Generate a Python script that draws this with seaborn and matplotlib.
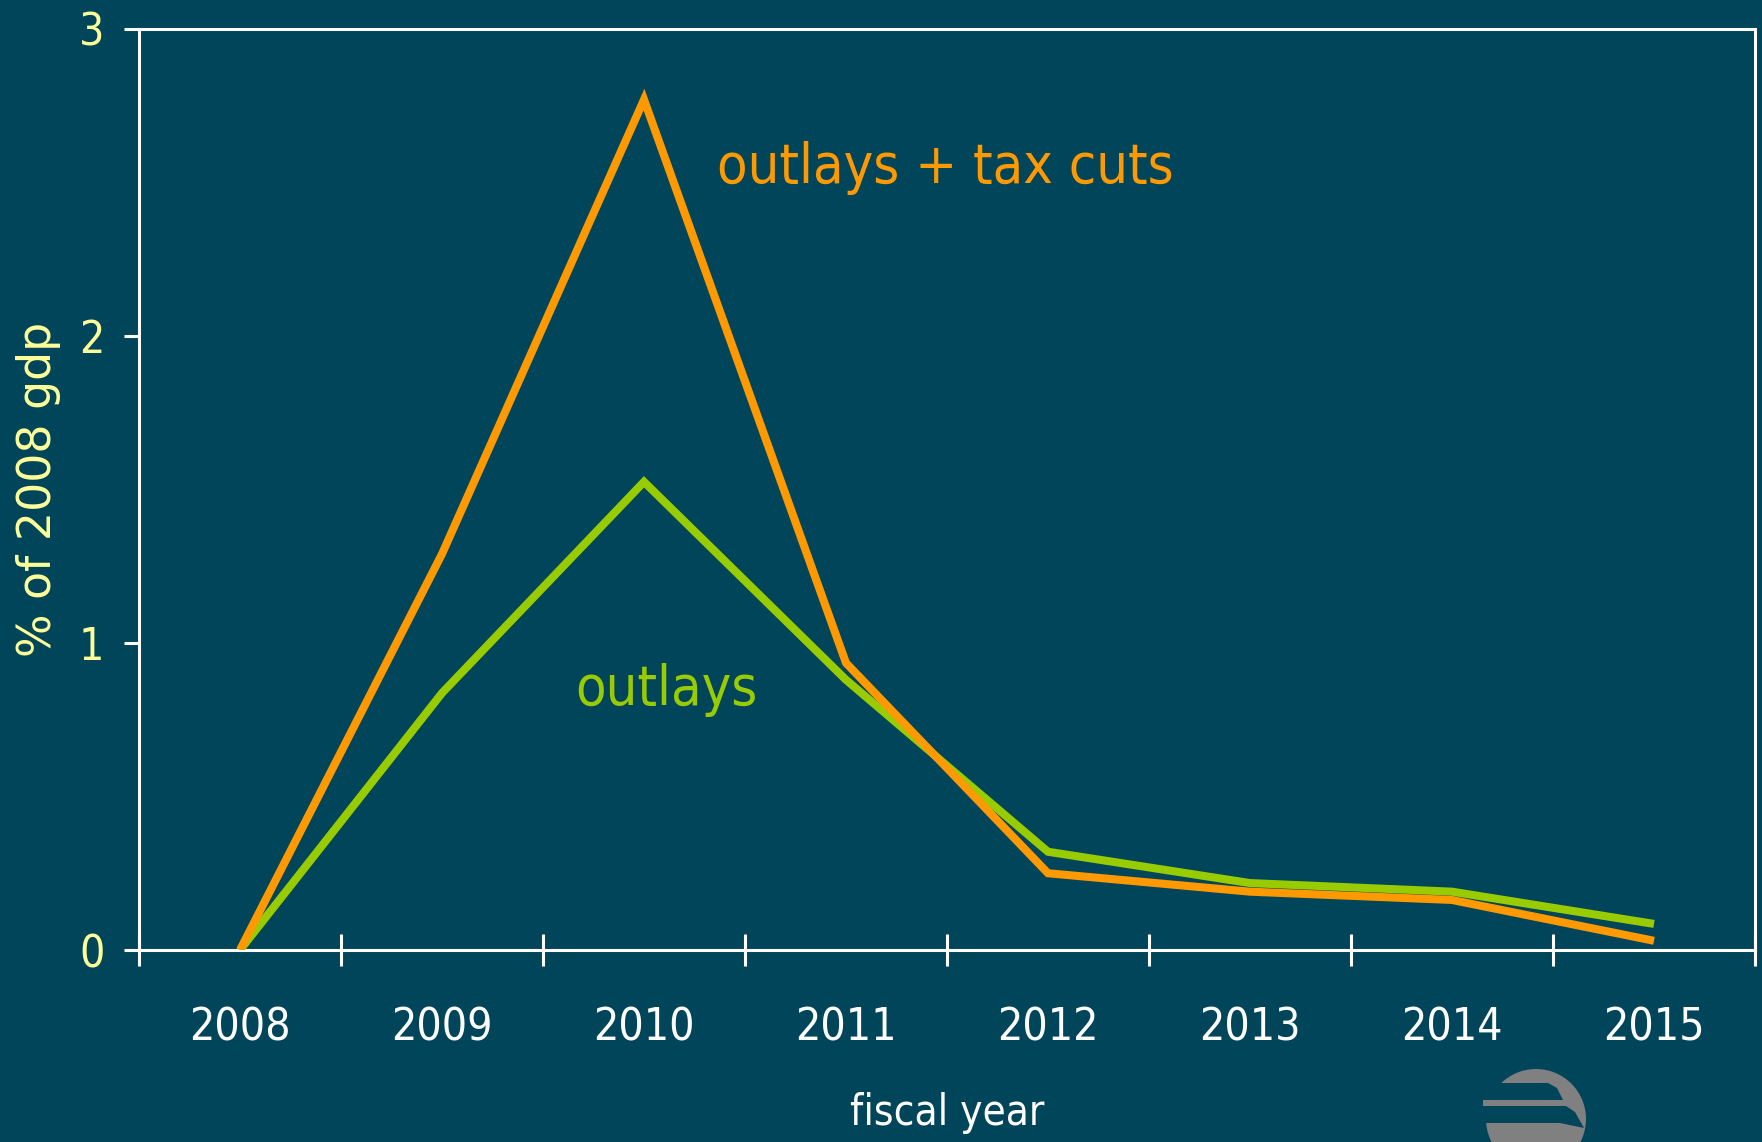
import numpy as np
import pandas as pd
import matplotlib
matplotlib.use("Agg")
import matplotlib.pyplot as plt
from matplotlib import font_manager as fm
from matplotlib.patches import Circle, Polygon, Rectangle
import seaborn as sns

# Stimulus budget effect by fiscal year, % of 2008 GDP
years = [2008, 2009, 2010, 2011, 2012, 2013, 2014, 2015]
outlays_tax_cuts = [0.0, 1.29, 2.77, 0.935, 0.25, 0.19, 0.163, 0.03]
outlays = [0.0, 0.837, 1.525, 0.88, 0.32, 0.218, 0.19, 0.085]
y_ticks = [0, 1, 2, 3]

BG = "#01455A"
ORANGE = "#FF9900"
GREEN = "#99CC00"
YELLOW = "#FFFF99"
WHITE = "#FFFFFF"

sns.set_theme(style="ticks")

# Narrow face for most of the text, with fallbacks
installed = {f.name for f in fm.fontManager.ttflist}
condensed_dejavu = any(f.name == "DejaVu Sans" and f.stretch == "condensed"
                       for f in fm.fontManager.ttflist)
if condensed_dejavu:
    narrow = dict(family="DejaVu Sans", stretch="condensed")
    scale = 0.82
elif "Liberation Sans Narrow" in installed:
    narrow = dict(family="Liberation Sans Narrow")
    scale = 1.0
else:
    narrow = dict(family="Liberation Sans")
    scale = 0.82

plt.rcParams["font.family"] = ["DejaVu Sans"]

tick_size = 39 * scale

fig = plt.figure(figsize=(17.62, 11.42), dpi=100, facecolor=BG)
ax = fig.add_axes([139 / 1762, 1 - 950 / 1142, (1755 - 139) / 1762, (950 - 29) / 1142])
ax.set_facecolor(BG)

df = pd.DataFrame({
    "year": years * 2,
    "value": outlays + outlays_tax_cuts,
    "series": ["outlays"] * len(years) + ["outlays + tax cuts"] * len(years),
})

sns.lineplot(data=df[df.series == "outlays"], x="year", y="value",
             color=GREEN, linewidth=5.8, ax=ax, zorder=3, legend=False)
sns.lineplot(data=df[df.series == "outlays + tax cuts"], x="year", y="value",
             color=ORANGE, linewidth=5.8, ax=ax, zorder=4, legend=False)
for ln in ax.get_lines():
    ln.set_solid_joinstyle("miter")
    ln.set_solid_capstyle("butt")

ax.set_xlim(years[0] - 0.5, years[-1] + 0.5)
ax.set_ylim(0, 3)

# Year labels at centres, tick marks at category boundaries
ax.set_xticks(years)
ax.set_xticklabels([str(y) for y in years])
ax.set_xticks([y - 0.5 for y in years] + [years[-1] + 0.5], minor=True)
ax.tick_params(axis="x", which="major", length=0, pad=41, colors=WHITE)
ax.tick_params(axis="x", which="minor", direction="inout", length=23,
               width=2.2, color=WHITE)
for lab in ax.get_xticklabels():
    lab.set_fontproperties(fm.FontProperties(size=tick_size, **narrow))
    lab.set_color(WHITE)

ax.set_yticks(y_ticks)
ax.set_yticklabels([str(v) for v in y_ticks])
ax.tick_params(axis="y", direction="out", length=11, width=2.2, color=WHITE,
               pad=14, labelcolor=YELLOW)
for lab in ax.get_yticklabels():
    lab.set_fontproperties(fm.FontProperties(size=tick_size, **narrow))
    lab.set_color(YELLOW)

for side in ["left", "right", "top", "bottom"]:
    ax.spines[side].set_visible(True)
    ax.spines[side].set_color(WHITE)
    ax.spines[side].set_linewidth(2.2)

ax.set_xlabel("fiscal year", color=WHITE, labelpad=30,
              fontproperties=fm.FontProperties(size=37 * scale, **narrow))
ax.set_ylabel("% of 2008 gdp", color=YELLOW, labelpad=13,
              fontproperties=fm.FontProperties(size=33, family="DejaVu Sans"))

ax.text(2010.36, 2.498, "outlays + tax cuts", color=ORANGE, ha="left",
        va="baseline", fontproperties=fm.FontProperties(size=49 * scale, **narrow))
ax.text(2009.66, 0.798, "outlays", color=GREEN, ha="left",
        va="baseline", fontproperties=fm.FontProperties(size=49 * scale, **narrow))

# Small grey emblem in the lower right corner, drawn in pixel space
logo = fig.add_axes([0, 0, 1, 1], zorder=5)
logo.set_xlim(0, 1762)
logo.set_ylim(1142, 0)
logo.axis("off")
logo.patch.set_alpha(0)
GREY = "#808080"
logo.add_patch(Circle((1536, 1119), 50, color=GREY, lw=0))
logo.add_patch(Polygon([(1480, 1083), (1548, 1083), (1557, 1088), (1563, 1100),
                        (1480, 1100)], closed=True, color=BG, lw=0))
logo.add_patch(Polygon([(1480, 1106), (1566, 1106), (1575, 1112), (1584, 1128),
                        (1560, 1123), (1480, 1123)], closed=True, color=BG, lw=0))
logo.add_patch(Rectangle((1483, 1100), 80, 6, color=GREY, lw=0))

fig.savefig("out.png", dpi=100, facecolor=BG)
